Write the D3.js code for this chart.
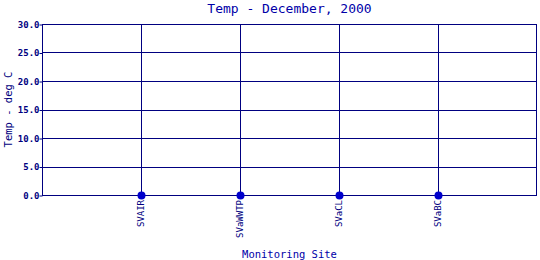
<!DOCTYPE html>
<html>
<head>
<meta charset="utf-8">
<script src="https://cdn.jsdelivr.net/npm/d3@7"></script>
<style>
  body { margin: 0; background: #fff; }
  text { font-family: "DejaVu Sans Mono", monospace; fill: #000080; }
  text.label { fill: #0000a8; }
</style>
</head>
<body>
<div id="chart"></div>
<script>
var sites = ["SVAIR", "SVaWWTP", "SVaCL", "SVaBC"];
var temps = [0, 0, 0, 0];
var yTicks = [0, 5, 10, 15, 20, 25, 30];

var width = 540, height = 260;
var margin = {top: 24, right: 3, bottom: 65, left: 42};
var lineColor = "#000080";

var svg = d3.select("#chart").append("svg")
    .attr("width", width)
    .attr("height", height);

var xScale = d3.scalePoint()
    .domain(sites)
    .range([margin.left, width - margin.right])
    .padding(1);

var yScale = d3.scaleLinear()
    .domain([0, 30])
    .range([height - margin.bottom, margin.top]);

// grid lines
svg.append("g")
    .selectAll("line.h")
    .data(yTicks)
    .join("line")
    .attr("x1", margin.left)
    .attr("x2", width - margin.right)
    .attr("y1", d => Math.round(yScale(d)) + 0.5)
    .attr("y2", d => Math.round(yScale(d)) + 0.5)
    .attr("stroke", lineColor)
    .attr("stroke-width", 1);

svg.append("g")
    .selectAll("line.v")
    .data(sites)
    .join("line")
    .attr("x1", d => Math.round(xScale(d)) + 0.5)
    .attr("x2", d => Math.round(xScale(d)) + 0.5)
    .attr("y1", margin.top)
    .attr("y2", height - margin.bottom)
    .attr("stroke", lineColor);

// frame
svg.append("rect")
    .attr("x", margin.left + 0.5)
    .attr("y", margin.top + 0.5)
    .attr("width", width - margin.left - margin.right - 1)
    .attr("height", height - margin.top - margin.bottom)
    .attr("fill", "none")
    .attr("stroke", lineColor);

/* y axis */
var yAxis = d3.axisLeft(yScale)
    .tickValues(yTicks)
    .tickSize(3)
    .tickFormat(d3.format(".1f"));
var gy = svg.append("g")
    .attr("transform", `translate(${margin.left + 0.5},0.5)`)
    .call(yAxis);
gy.select(".domain").remove();
gy.selectAll("line").attr("stroke", lineColor);
gy.selectAll("text")
    .attr("x", -3)
    .style("font-size", "9px")
    .style("font-weight", "bold");

/* x axis labels */
svg.append("g")
    .selectAll("text.site")
    .data(sites)
    .join("text")
    .attr("transform", d => `translate(${Math.round(xScale(d)) + 3},${height - margin.bottom + 5}) rotate(-90)`)
    .attr("text-anchor", "end")
    .style("font-size", "9px")
    .text(d => d);

/* points */
svg.append("g")
    .selectAll("circle")
    .data(sites)
    .join("circle")
    .attr("cx", (d, i) => Math.round(xScale(d)) + 0.5)
    .attr("cy", (d, i) => Math.round(yScale(temps[i])) + 0.5)
    .attr("r", 4)
    .attr("fill", "#0000cc");

/* titles */
svg.append("text")
    .attr("class", "label")
    .attr("x", (margin.left + width - margin.right) / 2)
    .attr("y", 13)
    .attr("text-anchor", "middle")
    .style("font-size", "13px")
    .text("Temp - December, 2000");

svg.append("text")
    .attr("class", "label")
    .attr("x", (margin.left + width - margin.right) / 2)
    .attr("y", 258)
    .attr("text-anchor", "middle")
    .style("font-size", "10.5px")
    .text("Monitoring Site");

svg.append("text")
    .attr("transform", `translate(12,${(margin.top + height - margin.bottom) / 2}) rotate(-90)`)
    .attr("text-anchor", "middle")
    .style("font-size", "10.5px")
    .text("Temp - deg C");
</script>
</body>
</html>
